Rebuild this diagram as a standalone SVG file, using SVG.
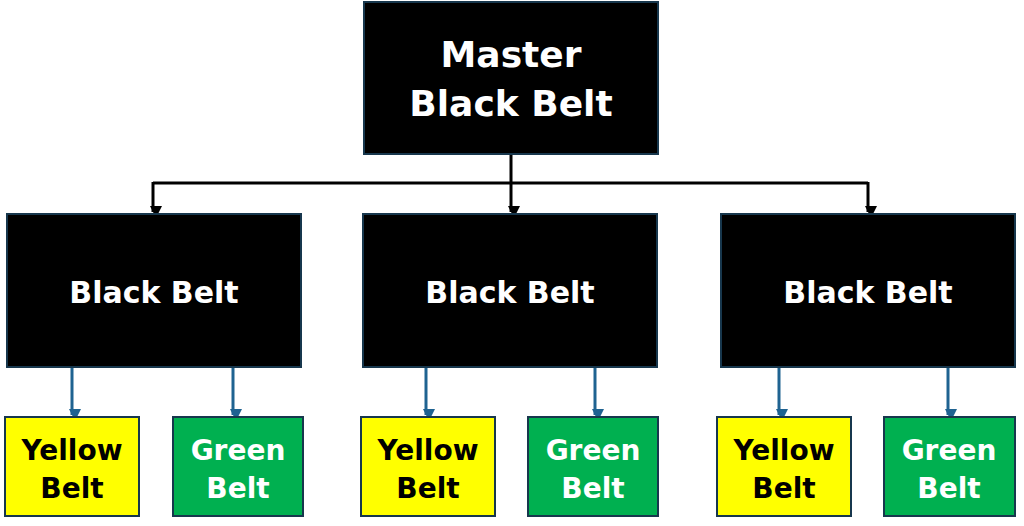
<svg xmlns="http://www.w3.org/2000/svg" width="1024" height="526" viewBox="0 0 1024 526">
<style>
.b{fill:#000;stroke:#17374d;stroke-width:2}
.y{fill:#ffff00;stroke:#17374d;stroke-width:2}
.g{fill:#00b050;stroke:#17374d;stroke-width:2}
text{font-family:"DejaVu Sans",Verdana,sans-serif;font-weight:bold;text-anchor:middle}
.w{fill:#fff}.k{fill:#000}
.c1{fill:none;stroke:#000;stroke-width:3}
.c2{fill:none;stroke:#1f6391;stroke-width:3}
</style>
<defs>
<marker id="ak" markerWidth="4" markerHeight="4" refX="2" refY="3" orient="auto" markerUnits="strokeWidth" viewBox="0 0 4 4"><path d="M0,0 L4,0 L2,4 z" transform="rotate(-90 2 2)" fill="#000"/></marker>
<marker id="at" markerWidth="4" markerHeight="4" refX="2" refY="3" orient="auto" markerUnits="strokeWidth" viewBox="0 0 4 4"><path d="M0,0 L4,0 L2,4 z" transform="rotate(-90 2 2)" fill="#1f6391"/></marker>
</defs>
<g id="connectors">
<path class="c1" d="M511,155 V183 M153,183 H868"/>
<path class="c1" d="M153,182 V212" marker-end="url(#ak)"/>
<path class="c1" d="M511,183 V212" marker-end="url(#ak)"/>
<path class="c1" d="M868,182 V212" marker-end="url(#ak)"/>
<path class="c2" d="M72,368 V415" marker-end="url(#at)"/>
<path class="c2" d="M233,368 V415" marker-end="url(#at)"/>
<path class="c2" d="M426,368 V415" marker-end="url(#at)"/>
<path class="c2" d="M595,368 V415" marker-end="url(#at)"/>
<path class="c2" d="M779,368 V415" marker-end="url(#at)"/>
<path class="c2" d="M948,368 V415" marker-end="url(#at)"/>
</g>
<g id="master"><rect class="b" x="364" y="2" width="294" height="152"/><text class="w" x="511" y="67" font-size="36">Master</text><text class="w" x="511" y="116" font-size="36">Black Belt</text></g>
<g id="bb1"><rect class="b" x="7" y="214" width="294" height="153"/><text class="w" x="154" y="303" font-size="30">Black Belt</text></g>
<g id="bb2"><rect class="b" x="363" y="214" width="294" height="153"/><text class="w" x="510" y="303" font-size="30">Black Belt</text></g>
<g id="bb3"><rect class="b" x="721" y="214" width="294" height="153"/><text class="w" x="868" y="303" font-size="30">Black Belt</text></g>
<g id="y1"><rect class="y" x="5" y="417" width="134" height="99"/><text class="k" x="72" y="460" font-size="28">Yellow</text><text class="k" x="72" y="498" font-size="28">Belt</text></g>
<g id="g1"><rect class="g" x="173" y="417" width="130" height="99"/><text class="w" x="238" y="460" font-size="28">Green</text><text class="w" x="238" y="498" font-size="28">Belt</text></g>
<g id="y2"><rect class="y" x="361" y="417" width="134" height="99"/><text class="k" x="428" y="460" font-size="28">Yellow</text><text class="k" x="428" y="498" font-size="28">Belt</text></g>
<g id="g2"><rect class="g" x="528" y="417" width="130" height="99"/><text class="w" x="593" y="460" font-size="28">Green</text><text class="w" x="593" y="498" font-size="28">Belt</text></g>
<g id="y3"><rect class="y" x="717" y="417" width="134" height="99"/><text class="k" x="784" y="460" font-size="28">Yellow</text><text class="k" x="784" y="498" font-size="28">Belt</text></g>
<g id="g3"><rect class="g" x="884" y="417" width="131" height="99"/><text class="w" x="949" y="460" font-size="28">Green</text><text class="w" x="949" y="498" font-size="28">Belt</text></g>
</svg>
